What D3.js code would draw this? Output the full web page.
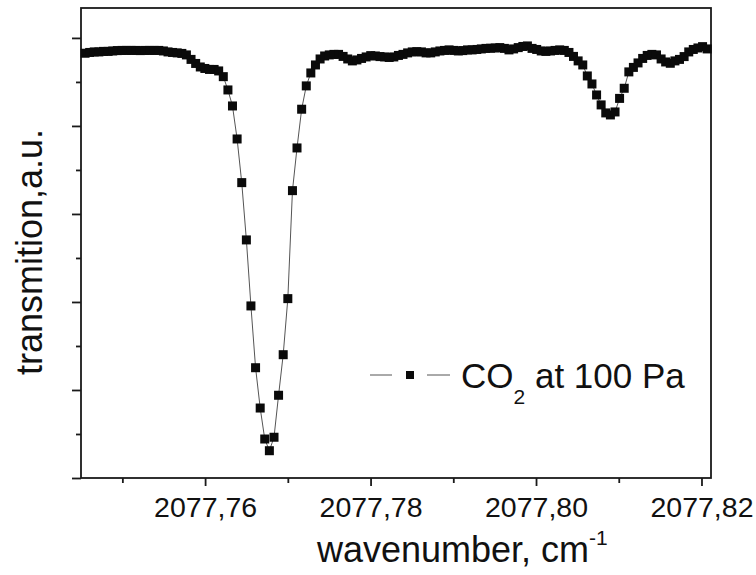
<!DOCTYPE html>
<html>
<head>
<meta charset="utf-8">
<script src="https://cdn.jsdelivr.net/npm/d3@7"></script>
<style>
  html, body { margin: 0; padding: 0; background: #fff; }
  svg { display: block; }
  text { font-family: "Liberation Sans", Arial, Helvetica, sans-serif; fill: #111; }
</style>
</head>
<body>
<svg id="chart" width="756" height="575"></svg>
<script>
// ---- data ----
const wavenumber = [
  2077.74549, 2077.74605, 2077.74660, 2077.74716, 2077.74772, 2077.74828, 2077.74883, 2077.74939,
  2077.74995, 2077.75050, 2077.75106, 2077.75162, 2077.75217, 2077.75273, 2077.75329, 2077.75385,
  2077.75440, 2077.75496, 2077.75552, 2077.75607, 2077.75663, 2077.75719, 2077.75774, 2077.75830,
  2077.75886, 2077.75942, 2077.75997, 2077.76053, 2077.76109, 2077.76164, 2077.76220, 2077.76276,
  2077.76331, 2077.76387, 2077.76443, 2077.76499, 2077.76554, 2077.76610, 2077.76666, 2077.76721,
  2077.76777, 2077.76833, 2077.76888, 2077.76944, 2077.77000, 2077.77056, 2077.77111, 2077.77167,
  2077.77223, 2077.77278, 2077.77334, 2077.77390, 2077.77445, 2077.77501, 2077.77557, 2077.77613,
  2077.77668, 2077.77724, 2077.77780, 2077.77835, 2077.77891, 2077.77947, 2077.78002, 2077.78058,
  2077.78114, 2077.78170, 2077.78225, 2077.78281, 2077.78337, 2077.78392, 2077.78448, 2077.78504,
  2077.78559, 2077.78615, 2077.78671, 2077.78727, 2077.78782, 2077.78838, 2077.78894, 2077.78949,
  2077.79005, 2077.79061, 2077.79116, 2077.79172, 2077.79228, 2077.79284, 2077.79339, 2077.79395,
  2077.79451, 2077.79506, 2077.79562, 2077.79618, 2077.79673, 2077.79729, 2077.79785, 2077.79841,
  2077.79896, 2077.79952, 2077.80008, 2077.80063, 2077.80119, 2077.80175, 2077.80230, 2077.80286,
  2077.80342, 2077.80398, 2077.80453, 2077.80509, 2077.80565, 2077.80620, 2077.80676, 2077.80732,
  2077.80787, 2077.80843, 2077.80899, 2077.80955, 2077.81010, 2077.81066, 2077.81122, 2077.81177,
  2077.81233, 2077.81289, 2077.81344, 2077.81400, 2077.81456, 2077.81512, 2077.81567, 2077.81623,
  2077.81679, 2077.81734, 2077.81790, 2077.81846, 2077.81901, 2077.81957, 2077.82013, 2077.82069
];
const transmission = [
  4.826, 4.835, 4.841, 4.841, 4.847, 4.847, 4.852, 4.856,
  4.858, 4.858, 4.858, 4.858, 4.856, 4.858, 4.858, 4.858,
  4.858, 4.852, 4.841, 4.835, 4.830, 4.824, 4.807, 4.756,
  4.710, 4.670, 4.653, 4.642, 4.642, 4.625, 4.560, 4.409,
  4.227, 3.852, 3.356, 2.705, 1.955, 1.253, 0.795, 0.443,
  0.310, 0.463, 0.940, 1.401, 2.038, 3.265, 3.750, 4.190,
  4.455, 4.602, 4.693, 4.761, 4.795, 4.807, 4.813, 4.813,
  4.790, 4.761, 4.739, 4.750, 4.767, 4.784, 4.799, 4.795,
  4.788, 4.784, 4.778, 4.784, 4.801, 4.813, 4.830, 4.841,
  4.844, 4.841, 4.830, 4.830, 4.841, 4.852, 4.858, 4.864,
  4.858, 4.852, 4.856, 4.864, 4.864, 4.869, 4.875, 4.881,
  4.883, 4.886, 4.890, 4.881, 4.864, 4.875, 4.890, 4.903,
  4.909, 4.881, 4.869, 4.852, 4.847, 4.852, 4.858, 4.864,
  4.858, 4.835, 4.790, 4.739, 4.693, 4.568, 4.477, 4.352,
  4.239, 4.148, 4.125, 4.159, 4.313, 4.428, 4.614, 4.665,
  4.716, 4.767, 4.801, 4.813, 4.807, 4.761, 4.727, 4.712,
  4.739, 4.756, 4.788, 4.841, 4.869, 4.886, 4.901, 4.875
];
const xDomain = [2077.745, 2077.82115];
const yDomain = [0, 5.34];
const xMajorTicks = [2077.76, 2077.78, 2077.80, 2077.82];
const xMinorTicks = [2077.75, 2077.77, 2077.79, 2077.81];
const yMajorTicks = [0, 1, 2, 3, 4, 5];
const yMinorTicks = [0.5, 1.5, 2.5, 3.5, 4.5];
const xTitle = "wavenumber, cm";
const xTitleSup = "-1";
const yTitle = "transmition,a.u.";
const legendMain = "CO";
const legendSub = "2";
const legendRest = " at 100 Pa";

// ---- layout ----
const L = 81, R = 711, T = 8, B = 478;
const svg = d3.select("#chart");
const x = d3.scaleLinear().domain(xDomain).range([L, R]);
const y = d3.scaleLinear().domain(yDomain).range([B, T]);
const fmt = d => d.toFixed(2).replace(".", ",");
const axisColor = "#1a1a1a";

// frame
svg.append("rect")
  .attr("x", L).attr("y", T).attr("width", R - L).attr("height", B - T)
  .attr("fill", "none").attr("stroke", axisColor).attr("stroke-width", 1.8);

// bottom axis (major + minor)
const gx = svg.append("g").attr("transform", `translate(0,${B})`);
gx.call(d3.axisBottom(x).tickValues(xMajorTicks).tickSize(8).tickPadding(11).tickFormat(fmt));
gx.select(".domain").remove();
gx.selectAll(".tick line").attr("stroke", axisColor).attr("stroke-width", 1.8);
gx.selectAll(".tick text").attr("font-size", 28.5).attr("fill", "#111")
  .style("font-family", '"Liberation Sans", Arial, sans-serif');
const gxm = svg.append("g").attr("transform", `translate(0,${B})`);
gxm.call(d3.axisBottom(x).tickValues(xMinorTicks).tickSize(5).tickFormat(""));
gxm.select(".domain").remove();
gxm.selectAll(".tick line").attr("stroke", axisColor).attr("stroke-width", 1.8);

// left axis (no labels)
const gy = svg.append("g").attr("transform", `translate(${L},0)`);
gy.call(d3.axisLeft(y).tickValues(yMajorTicks).tickSize(9).tickFormat(""));
gy.select(".domain").remove();
gy.selectAll(".tick line").attr("stroke", axisColor).attr("stroke-width", 1.8);
const gym = svg.append("g").attr("transform", `translate(${L},0)`);
gym.call(d3.axisLeft(y).tickValues(yMinorTicks).tickSize(5).tickFormat(""));
gym.select(".domain").remove();
gym.selectAll(".tick line").attr("stroke", axisColor).attr("stroke-width", 1.8);

// data line + markers
const pts = wavenumber.map((w, i) => [w, transmission[i]]);
svg.append("path")
  .datum(pts)
  .attr("fill", "none")
  .attr("stroke", "#555")
  .attr("stroke-width", 1)
  .attr("d", d3.line().x(d => x(d[0])).y(d => y(d[1])));
const ms = 9;
svg.append("g").selectAll("rect")
  .data(pts).join("rect")
  .attr("x", d => x(d[0]) - ms / 2)
  .attr("y", d => y(d[1]) - ms / 2)
  .attr("width", ms).attr("height", ms)
  .attr("fill", "#0a0a0a");

// axis titles
const xt = svg.append("text")
  .attr("x", 317).attr("y", 562)
  .attr("font-size", 36);
xt.append("tspan").text(xTitle);
xt.append("tspan").attr("font-size", 21).attr("dy", -17).text(xTitleSup);

svg.append("text")
  .attr("transform", "translate(42,252) rotate(-90)")
  .attr("text-anchor", "middle")
  .attr("font-size", 36)
  .text(yTitle);

// legend
const lg = svg.append("g");
const ly = 375;
lg.append("line").attr("x1", 370).attr("x2", 392).attr("y1", ly).attr("y2", ly)
  .attr("stroke", "#555").attr("stroke-width", 1);
lg.append("line").attr("x1", 427).attr("x2", 450).attr("y1", ly).attr("y2", ly)
  .attr("stroke", "#555").attr("stroke-width", 1);
lg.append("rect").attr("x", 410 - 4).attr("y", ly - 4).attr("width", 8).attr("height", 8)
  .attr("fill", "#0a0a0a");
const lt = lg.append("text").attr("x", 461).attr("y", 388).attr("font-size", 35);
lt.append("tspan").text(legendMain);
lt.append("tspan").attr("font-size", 21).attr("dy", 16).text(legendSub);
lt.append("tspan").attr("dy", -16).text(legendRest);
</script>
</body>
</html>
